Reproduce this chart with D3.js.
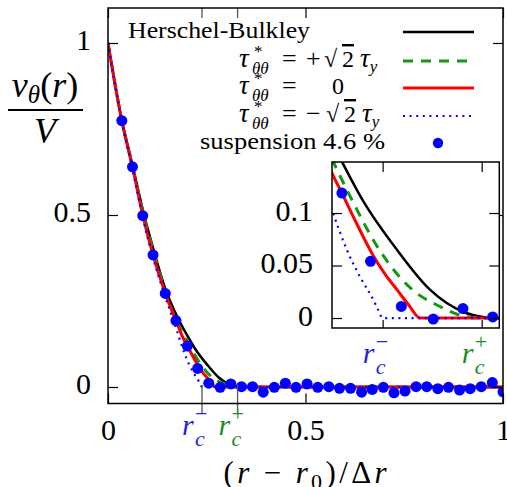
<!DOCTYPE html>
<html>
<head>
<meta charset="utf-8">
<script src="https://cdn.jsdelivr.net/npm/d3@7"></script>
<style>
body { margin: 0; background: #fff; }
svg { display: block; }
</style>
</head>
<body>
<script>
// measured suspension points (r - r0)/dr and v/V
var suspR = [0.035, 0.062, 0.088, 0.114, 0.145, 0.172, 0.201, 0.227, 0.255, 0.284, 0.311, 0.338,
             0.366, 0.393, 0.421, 0.449, 0.476, 0.504, 0.531, 0.559, 0.586, 0.614, 0.642, 0.669,
             0.697, 0.724, 0.752, 0.780, 0.807, 0.835, 0.862, 0.890, 0.917, 0.945, 0.973, 1.000];
var suspV = [0.774, 0.640, 0.498, 0.384, 0.272, 0.193, 0.119, 0.054, 0.011, -0.001, 0.009, 0.001,
             0.001, -0.015, -0.001, 0.011, -0.001, 0.009, -0.001, 0.001, -0.004, -0.004, -0.015, -0.007,
             -0.001, -0.017, -0.012, 0.001, 0.001, -0.005, -0.001, -0.009, -0.005, 0.001, 0.013, -0.014];

// model curves
var hbR = [0, 0.035, 0.062, 0.090, 0.117, 0.145, 0.175, 0.201, 0.220, 0.251, 0.281, 0.311, 0.329, 0.338, 1];
var hbV = [1, 0.776, 0.645, 0.506, 0.392, 0.286, 0.205, 0.149, 0.112, 0.065, 0.027, 0.006, 0.001, 0, 0];
var plusR = [0, 0.035, 0.062, 0.090, 0.117, 0.145, 0.172, 0.193, 0.207, 0.235, 0.265, 0.290, 0.311, 0.328, 1];
var plusV = [1, 0.774, 0.641, 0.501, 0.385, 0.278, 0.195, 0.149, 0.119, 0.065, 0.027, 0.011, 0.002, 0, 0];
var zeroR = [0, 0.035, 0.062, 0.088, 0.114, 0.145, 0.172, 0.192, 0.201, 0.2144, 0.2286, 0.240, 0.251, 0.262, 0.272, 1];
var zeroV = [1, 0.773, 0.639, 0.499, 0.384, 0.272, 0.193, 0.138, 0.119, 0.090, 0.061, 0.042, 0.027, 0.012, 0, 0];
var minusR = [0, 0.035, 0.062, 0.088, 0.114, 0.145, 0.172, 0.192, 0.2055, 0.2176, 0.2297, 0.2343, 0.238, 1];
var minusV = [1, 0.771, 0.635, 0.493, 0.376, 0.262, 0.172, 0.103, 0.065, 0.039, 0.017, 0.007, 0, 0];

var rcMinus = 0.238, rcPlus = 0.328;
var mainXTicks = [0, 0.5, 1];
var mainYTicks = [0, 0.5, 1];
var insetYTicks = [0, 0.05, 0.1];

var FONT = "'Liberation Serif', 'DejaVu Serif', 'Noto Serif', serif";
var W = 507, H = 487;
var svg = d3.select("body").append("svg").attr("width", W).attr("height", H)
  .attr("font-family", FONT);

var x = d3.scaleLinear().domain([0, 1]).range([108, 503]);
var y = d3.scaleLinear().domain([-0.048, 1.1017]).range([403.5, 8]);
var xi = d3.scaleLinear().domain([0.192, 0.344]).range([332, 499.3]);
var yi = d3.scaleLinear().domain([-0.0095, 0.1486]).range([328, 162]);

var curves = [
  {r: hbR, v: hbV, color: "#000", w: 2.5, dash: null},
  {r: plusR, v: plusV, color: "#119911", w: 3, dash: "10,8"},
  {r: zeroR, v: zeroV, color: "#ff0000", w: 3, dash: null},
  {r: minusR, v: minusV, color: "#0000ff", w: 2.2, dash: "2,4.6"}
];

function zip(a, b) { return a.map(function(d, i) { return [d, b[i]]; }); }

// helper for small math-ish labels built from tspans
function mtext(g, x0, y0, size, parts, anchor, color) {
  var t = g.append("text").attr("x", x0).attr("y", y0).attr("font-size", size)
    .attr("font-family", FONT)
    .attr("text-anchor", anchor || "start").attr("fill", color || "#000");
  var cur = 0;
  parts.forEach(function(p) {
    var s = t.append("tspan").text(p.t);
    if (p.i) s.attr("font-style", "italic");
    if (p.s) s.attr("font-size", p.s);
    if (p.x != null) s.attr("x", p.x);
    if (p.dx) s.attr("dx", p.dx);
    var off = p.dy || 0;
    if (off !== cur) { s.attr("dy", off - cur); cur = off; }
    if (p.o) s.attr("text-decoration", "overline");
  });
  return t;
}

function rcLabel(g, x0, y0, sign, color) {
  mtext(g, x0, y0, 30, [{t: "r", i: 1}, {t: sign, s: 22, dy: -14, x: x0 + 13},
    {t: "c", i: 1, s: 22, dy: 11, x: x0 + 13}], "start", color);
}

function drawPanel(g, sx, sy, clipId, x0, y0, x1, y1) {
  g.append("clipPath").attr("id", clipId).append("rect")
    .attr("x", x0).attr("y", y0).attr("width", x1 - x0).attr("height", y1 - y0);
  var body = g.append("g").attr("clip-path", "url(#" + clipId + ")");
  var line = d3.line().x(function(d) { return sx(d[0]); }).y(function(d) { return sy(d[1]); })
    .curve(d3.curveMonotoneX);
  curves.forEach(function(c) {
    body.append("path").attr("d", line(zip(c.r, c.v))).attr("fill", "none")
      .attr("stroke", c.color).attr("stroke-width", c.w)
      .attr("stroke-dasharray", c.dash);
  });
  body.selectAll("circle").data(zip(suspR, suspV)).enter().append("circle")
    .attr("cx", function(d) { return sx(d[0]); })
    .attr("cy", function(d) { return sy(d[1]); })
    .attr("r", 5.5).attr("fill", "#0000ff");
}

function styleTicks(sel, size) {
  sel.attr("font-family", FONT).attr("font-size", size);
}

// ---- main panel
var main = svg.append("g");
drawPanel(main, x, y, "clipMain", 108, 8, 503, 403.5);

var ax = main.append("g").attr("transform", "translate(0,403.5)")
  .call(d3.axisBottom(x).tickValues(mainXTicks).tickSize(-10).tickFormat(function(d) { return String(d); }));
styleTicks(ax, 30);
ax.selectAll("text").attr("y", 36).attr("dy", null);
main.append("g").attr("transform", "translate(0,8)")
  .call(d3.axisTop(x).tickValues(mainXTicks).tickSize(-10).tickFormat(""));
var ay = main.append("g").attr("transform", "translate(108,0)")
  .call(d3.axisLeft(y).tickValues(mainYTicks).tickSize(-10).tickFormat(function(d) { return String(d); }));
styleTicks(ay, 30);
ay.selectAll("text").attr("x", -17).attr("dy", 7);
main.append("g").attr("transform", "translate(503,0)")
  .call(d3.axisRight(y).tickValues(mainYTicks).tickSize(-10).tickFormat(""));
main.selectAll(".domain").remove();
main.selectAll(".tick line").attr("stroke", "#000").attr("stroke-width", 1.2);

// critical radius ticks
[rcMinus, rcPlus].forEach(function(rc) {
  main.append("line").attr("x1", x(rc)).attr("x2", x(rc)).attr("y1", 385).attr("y2", 413)
    .attr("stroke", "#555").attr("stroke-width", 1.3);
  main.append("line").attr("x1", x(rc)).attr("x2", x(rc)).attr("y1", 8).attr("y2", 18)
    .attr("stroke", "#555").attr("stroke-width", 1.3);
});
rcLabel(main, x(rcMinus) - 20, 435, "\u2212", "#2424e0");
rcLabel(main, x(rcPlus) - 19, 435, "+", "#1f8a1f");

main.append("rect").attr("x", 108).attr("y", 8).attr("width", 395).attr("height", 395.5)
  .attr("fill", "none").attr("stroke", "#000").attr("stroke-width", 1.5);

// axis titles
mtext(main, 45, 97, 36, [{t: "v", i: 1}, {t: "\u03b8", i: 1, s: 25, dy: 6}, {t: "("}, {t: "r", i: 1}, {t: ")"}], "middle");
main.append("line").attr("x1", 8).attr("x2", 83).attr("y1", 110).attr("y2", 110)
  .attr("stroke", "#000").attr("stroke-width", 1.8);
mtext(main, 45, 143, 36, [{t: "V", i: 1}], "middle");
mtext(main, 305, 483, 31, [{t: "("}, {t: "r", i: 1}, {t: " \u2212 "}, {t: "r", i: 1}, {t: "0", s: 22, dy: 6},
  {t: ")/\u0394"}, {t: "r", i: 1}], "middle")
  .attr("textLength", 163).attr("lengthAdjust", "spacing");

// ---- legend
var leg = svg.append("g");
var legY = [32, 61, 88, 116];
mtext(leg, 128, 38, 23, [{t: "Herschel-Bulkley"}])
  .attr("textLength", 182).attr("lengthAdjust", "spacingAndGlyphs");
var tauParts = [{t: "\u03c4", i: 1, x: 239, s: 27}, {t: "*", s: 17, dy: -10, x: 254}, {t: "\u03b8\u03b8", i: 1, s: 17, dy: 7, x: 252},
  {t: "=", x: 282, s: 26}];
mtext(leg, 238, 67, 24, tauParts.concat([{t: "+", x: 306, s: 26}, {t: "\u221a", x: 324}, {t: "2", o: 1, x: 342},
  {t: "\u03c4", i: 1, x: 360, s: 27}, {t: "y", i: 1, s: 17, dy: 5}]));
mtext(leg, 238, 94, 24, tauParts.concat([{t: "0", x: 332}]));
mtext(leg, 238, 122, 24, tauParts.concat([{t: "\u2212", x: 306, s: 26}, {t: "\u221a", x: 326}, {t: "2", o: 1, x: 344},
  {t: "\u03c4", i: 1, x: 362, s: 27}, {t: "y", i: 1, s: 17, dy: 5}]));
mtext(leg, 385, 149, 23, [{t: "suspension 4.6 %"}], "end")
  .attr("textLength", 185).attr("lengthAdjust", "spacingAndGlyphs");
curves.forEach(function(c, i) {
  leg.append("line").attr("x1", 403).attr("x2", 474).attr("y1", legY[i]).attr("y2", legY[i])
    .attr("stroke", c.color).attr("stroke-width", c.w).attr("stroke-dasharray", c.dash);
});
leg.append("circle").attr("cx", 438).attr("cy", 143).attr("r", 5.2).attr("fill", "#0000ff");

// ---- inset
var ins = svg.append("g");
ins.append("rect").attr("x", 332).attr("y", 162).attr("width", 167.3).attr("height", 166).attr("fill", "#fff");
drawPanel(ins, xi, yi, "clipInset", 332, 162, 499.3, 328);
var iy = ins.append("g").attr("transform", "translate(332,0)")
  .call(d3.axisLeft(yi).tickValues(insetYTicks).tickSize(-10).tickFormat(function(d) { return String(d); }));
styleTicks(iy, 30);
iy.selectAll("text").attr("x", -19).attr("dy", 7);
ins.append("g").attr("transform", "translate(499.3,0)")
  .call(d3.axisRight(yi).tickValues(insetYTicks).tickSize(-10).tickFormat(""));
ins.append("g").attr("transform", "translate(0,328)")
  .call(d3.axisBottom(xi).tickValues([rcMinus, rcPlus]).tickSize(-8).tickFormat(""));
ins.append("g").attr("transform", "translate(0,162)")
  .call(d3.axisTop(xi).tickValues([rcMinus, rcPlus]).tickSize(-10).tickFormat(""));
ins.selectAll(".domain").remove();
ins.selectAll(".tick line").attr("stroke", "#000").attr("stroke-width", 1.2);
ins.append("rect").attr("x", 332).attr("y", 162).attr("width", 167.3).attr("height", 166)
  .attr("fill", "none").attr("stroke", "#000").attr("stroke-width", 1.5);
rcLabel(ins, xi(rcMinus) - 20, 363, "\u2212", "#2424e0");
rcLabel(ins, xi(rcPlus) - 20, 363, "+", "#1f8a1f");
</script>
</body>
</html>
